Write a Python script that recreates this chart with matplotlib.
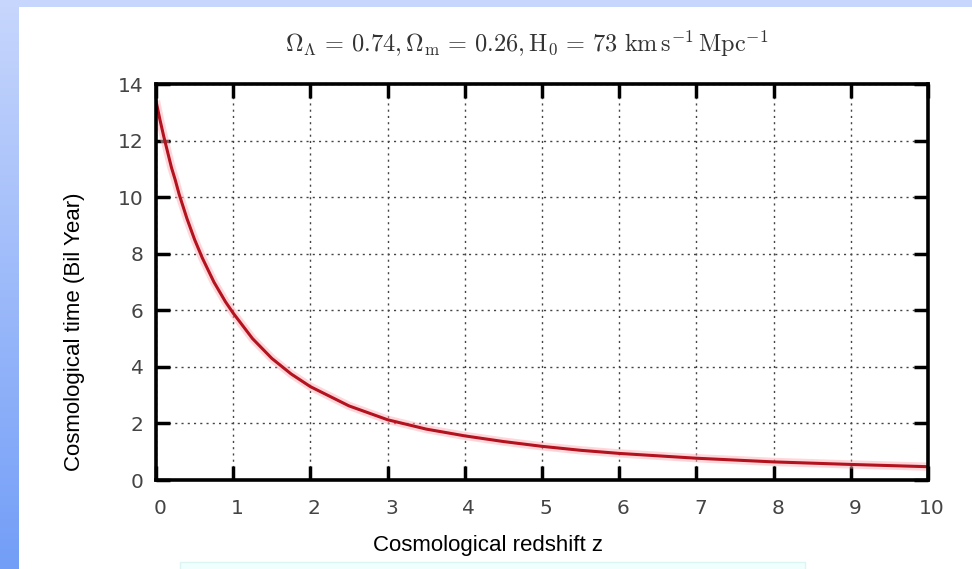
import numpy as np
import matplotlib
matplotlib.use("Agg")
from matplotlib import pyplot as plt
from matplotlib.patches import Rectangle
from matplotlib.transforms import ScaledTranslation

# values
redshift = [0, 0.05, 0.1, 0.15, 0.2, 0.25, 0.3, 0.4, 0.5, 0.6, 0.75, 0.9, 1.0,
            1.25, 1.5, 1.75, 2.0, 2.5, 3.0, 3.5, 4.0, 4.5, 5.0, 5.5, 6.0,
            7.0, 8.0, 9.0, 10.0]
age = [13.4, 12.75, 12.15, 11.6, 11.05, 10.6, 10.1, 9.25, 8.5, 7.85, 7.0, 6.3, 5.9,
       5.0, 4.3, 3.75, 3.3, 2.62, 2.13, 1.8, 1.56, 1.36, 1.19, 1.05, 0.94,
       0.77, 0.64, 0.55, 0.47]
xticks = list(range(0, 11))
yticks = list(range(0, 15, 2))

title = r"$\Omega_\Lambda \,=\, 0.74, \Omega_{\rm m} \,=\, 0.26, {\rm H}_0 \,=\, 73\ {\rm km\,s^{-1}\,Mpc^{-1}}$"

plt.rcParams['mathtext.fontset'] = 'cm'

fig = plt.figure(figsize=(9.72, 5.69), dpi=100)
fig.patch.set_facecolor('white')

# slide background: top strip and left gradient strip
bg = fig.add_axes([0, 0, 1, 1], zorder=-10)
bg.set_xlim(0, 972)
bg.set_ylim(569, 0)
bg.axis('off')
grad = np.linspace(0, 1, 256).reshape(-1, 1)
top_c = np.array([0.78, 0.84, 0.99])
bot_c = np.array([0.45, 0.62, 0.97])
img = top_c + (bot_c - top_c) * grad[..., None]
bg.imshow(img, extent=[0, 18, 569, 0], aspect='auto')
bg.add_patch(Rectangle((0, 0), 972, 7, color='#c6d6fd', lw=0))
bg.add_patch(Rectangle((180, 562), 625, 10, facecolor='#effffd', edgecolor='#dcf4f2', lw=1))

ax = fig.add_axes([156 / 972, 1 - 480 / 569, (928 - 156) / 972, (480 - 84) / 569])
ax.plot(redshift, age, color='#ffb0b8', lw=6, alpha=0.5, solid_capstyle='butt')
ax.plot(redshift, age, color='#b3131f', lw=2.2)

ax.set_xlim(0, 10)
ax.set_ylim(0, 14)
ax.set_xticks(xticks)
ax.set_yticks(yticks)
ax.grid(True, color='#444444', linestyle=(0, (1.5, 3)), lw=1)
ax.tick_params(direction='in', length=10, width=2.5, top=True, right=True,
               labelsize=14.5, labelcolor='#444444')
ax.tick_params(axis='x', pad=14)
ax.tick_params(axis='y', pad=9)
shift = ScaledTranslation(4 / 100, 0, fig.dpi_scale_trans)
for lab in ax.get_xticklabels():
    lab.set_transform(lab.get_transform() + shift)
for s in ax.spines.values():
    s.set_linewidth(2.6)

fig.text(527 / 972, 1 - 44 / 569, title, ha='center', va='center',
         fontsize=17.5, color='#333333')
fig.text(488 / 972, 1 - 545 / 569, "Cosmological redshift z", ha='center', va='center',
         fontsize=16, family='Liberation Sans')
fig.text(75 / 972, 1 - 332 / 569, "Cosmological time (Bil Year)", ha='center', va='center',
         rotation=90, fontsize=16, family='Liberation Sans')

fig.savefig('out.png', dpi=100)
